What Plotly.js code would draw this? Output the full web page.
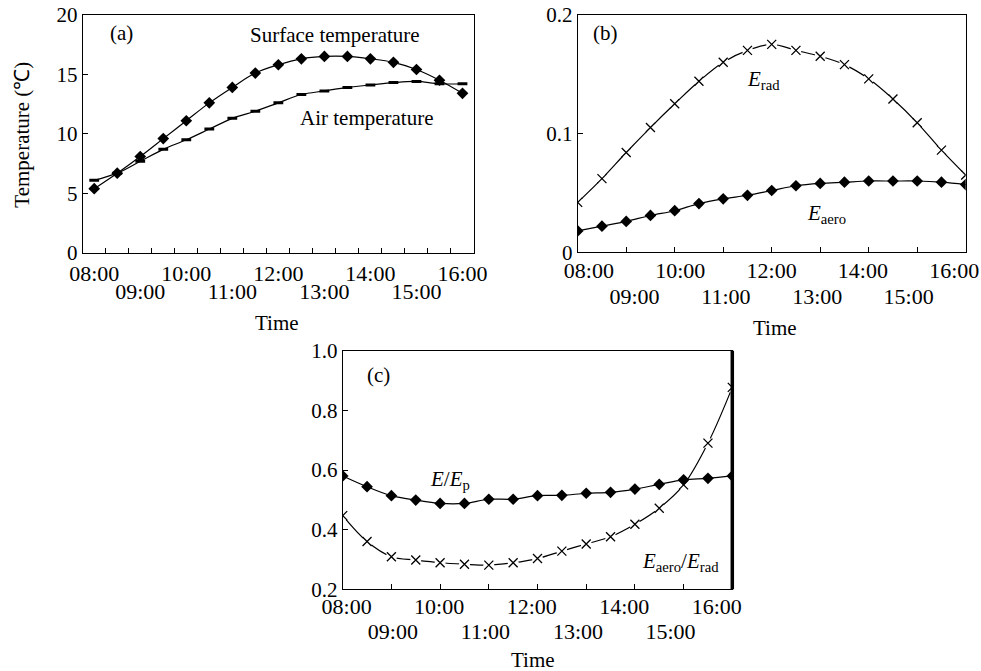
<!DOCTYPE html>
<html>
<head>
<meta charset="utf-8">
<script src="https://cdn.plot.ly/plotly-3.0.1.min.js"></script>
<style>html,body{margin:0;padding:0;background:#fff;}#chart{width:981px;height:671px;}</style>
</head>
<body>
<div id="chart"></div>
<script>
// ---- data ----
const times = ["08:00","08:30","09:00","09:30","10:00","10:30","11:00","11:30","12:00",
               "12:30","13:00","13:30","14:00","14:30","15:00","15:30","16:00"];
const surfaceTemp = [5.4, 6.7, 8.1, 9.6, 11.1, 12.6, 13.9, 15.1, 15.8, 16.3, 16.5, 16.5, 16.3, 16.0, 15.4, 14.5, 13.4];
const airTemp     = [6.1, 6.7, 7.7, 8.7, 9.5, 10.4, 11.3, 11.9, 12.6, 13.3, 13.6, 13.9, 14.1, 14.3, 14.4, 14.2, 14.2];
const eRad  = [0.042, 0.062, 0.084, 0.105, 0.125, 0.144, 0.160, 0.170, 0.175, 0.170, 0.165, 0.158, 0.146, 0.129, 0.109, 0.086, 0.065];
const eAero = [0.018, 0.022, 0.026, 0.031, 0.035, 0.041, 0.045, 0.048, 0.052, 0.056, 0.058, 0.059, 0.060, 0.060, 0.060, 0.059, 0.057];
const eRatio    = [0.580, 0.544, 0.514, 0.499, 0.488, 0.488, 0.502, 0.502, 0.514, 0.515, 0.522, 0.525, 0.536, 0.552, 0.567, 0.572, 0.580];
const aeroRatio = [0.447, 0.360, 0.309, 0.298, 0.289, 0.284, 0.281, 0.289, 0.303, 0.328, 0.352, 0.376, 0.418, 0.472, 0.550, 0.690, 0.877];
const labelsTop    = ["08:00","10:00","12:00","14:00","16:00"];
const labelsBottom = ["09:00","11:00","13:00","15:00"];
const yTicksA = [0, 5, 10, 15, 20];
const yTicksB = [0, 0.1, 0.2];
const yTextB  = ["0", "0.1", "0.2"];
const yTicksC = [0.2, 0.4, 0.6, 0.8, 1.0];
const yTextC  = ["0.2", "0.4", "0.6", "0.8", "1.0"];

// ---- helpers ----
const toH = t => { const [h, m] = t.split(":").map(Number); return h + m / 60; };
const xs = times.map(toH);
const boundaries = xs.slice(1).map((v, i) => (v + xs[i]) / 2);
const hourly = xs.filter(v => Number.isInteger(v) && v > xs[0] && v < xs[xs.length - 1]);
const W = 981, H = 671;
const px = v => v / W, py = v => 1 - v / H;
const FONT = "Liberation Serif, Times New Roman, serif";
const BLK = "#000";

const lineW = 1.2;
const diamond = {symbol: "diamond", size: 9, color: BLK};
const traces = [
  // panel a
  {x: xs, y: airTemp, xaxis: "x", yaxis: "y", mode: "lines+markers", name: "Air temperature",
   line: {color: BLK, width: lineW, shape: "spline"},
   marker: {symbol: "line-ew", size: 7, line: {color: BLK, width: 3}}},
  {x: xs, y: surfaceTemp, xaxis: "x", yaxis: "y", mode: "lines+markers", name: "Surface temperature",
   line: {color: BLK, width: lineW, shape: "spline"}, marker: diamond},
  // panel b
  {x: xs, y: eRad, xaxis: "x4", yaxis: "y2", mode: "lines+markers", name: "E_rad",
   line: {color: BLK, width: lineW, shape: "spline"}, marker: {symbol: "circle", size: 11, color: "#fff"}},
  {x: xs, y: eRad, xaxis: "x4", yaxis: "y2", mode: "markers", name: "E_rad markers",
   marker: {symbol: "x-thin", size: 9, line: {color: BLK, width: 1.3}}},
  {x: xs, y: eAero, xaxis: "x4", yaxis: "y2", mode: "lines+markers", name: "E_aero",
   line: {color: BLK, width: lineW, shape: "spline"}, marker: diamond},
  // panel c
  {x: xs, y: aeroRatio, xaxis: "x7", yaxis: "y3", mode: "lines+markers", name: "E_aero/E_rad",
   line: {color: BLK, width: lineW, shape: "spline"}, marker: {symbol: "circle", size: 11, color: "#fff"}},
  {x: xs, y: aeroRatio, xaxis: "x7", yaxis: "y3", mode: "markers", name: "E_aero/E_rad markers",
   marker: {symbol: "x-thin", size: 9, line: {color: BLK, width: 1.3}}},
  {x: xs, y: eRatio, xaxis: "x7", yaxis: "y3", mode: "lines+markers", name: "E/E_p",
   line: {color: BLK, width: lineW, shape: "spline"}, marker: diamond},
  // empty traces to hold label axes
  {x: [], y: [], xaxis: "x2", yaxis: "y", mode: "markers", hoverinfo: "skip"},
  {x: [], y: [], xaxis: "x3", yaxis: "y", mode: "markers", hoverinfo: "skip"},
  {x: [], y: [], xaxis: "x5", yaxis: "y2", mode: "markers", hoverinfo: "skip"},
  {x: [], y: [], xaxis: "x6", yaxis: "y2", mode: "markers", hoverinfo: "skip"},
  {x: [], y: [], xaxis: "x8", yaxis: "y3", mode: "markers", hoverinfo: "skip"},
  {x: [], y: [], xaxis: "x9", yaxis: "y3", mode: "markers", hoverinfo: "skip"}
];

const xTickFont = {family: FONT, size: 22, color: BLK};
const yTickFont = {family: FONT, size: 21, color: BLK};
function dataX(domain, range, tickvals, anchor) {
  return {domain, range, anchor, tickmode: "array", tickvals, showticklabels: false,
    ticks: "inside", ticklen: 5, tickwidth: 1, tickcolor: BLK,
    showline: true, linecolor: BLK, linewidth: 1, mirror: true,
    showgrid: false, zeroline: false, fixedrange: true};
}
function labelX(domain, range, over, anchor, vals, text, standoff) {
  return {domain, range, overlaying: over, anchor, tickmode: "array", tickvals: vals, ticktext: text,
    ticks: "", showline: false, showgrid: false, zeroline: false, tickfont: xTickFont,
    ticklabelstandoff: standoff, ticklabeloverflow: "allow", side: "bottom", fixedrange: true};
}
function dataY(domain, range, vals, text, anchor) {
  return {domain, range, anchor, tickmode: "array", tickvals: vals, ticktext: text,
    ticks: "inside", ticklen: 5, tickwidth: 1, tickcolor: BLK, tickfont: yTickFont,
    showline: true, linecolor: BLK, linewidth: 1, mirror: true,
    showgrid: false, zeroline: false, fixedrange: true};
}

const domA = [px(82.7), px(474)],  domAy = [py(253), py(14.7)];
const domB = [px(577.7), px(965.7)], domBy = [py(252.3), py(14.7)];
const domC = [px(342.7), px(732.3)], domCy = [py(589.3), py(350.7)];
const topHours = labelsTop.map(toH), botHours = labelsBottom.map(toH);
const rangeA = [7.75, 16.25];

const ann = (text, x, y, size, xanchor) => ({text, x: px(x), y: py(y), xref: "paper", yref: "paper",
  showarrow: false, xanchor: xanchor || "center", yanchor: "middle",
  font: {family: FONT, size: size || 21, color: BLK}});

const layout = {
  width: W, height: H, autosize: false, showlegend: false,
  margin: {l: 0, r: 0, t: 0, b: 0},
  paper_bgcolor: "#fff", plot_bgcolor: "#fff",
  font: {family: FONT, size: 21, color: BLK},
  xaxis: dataX(domA, rangeA, boundaries, "y"),
  xaxis2: labelX(domA, rangeA, "x", "y", topHours, labelsTop, 5),
  xaxis3: labelX(domA, rangeA, "x", "y", botHours, labelsBottom, 23),
  yaxis: dataY(domAy, [0, 20], yTicksA, yTicksA.map(String), "x"),
  xaxis4: dataX(domB, [8, 16], hourly, "y2"),
  xaxis5: labelX(domB, [7.755, 16.25], "x4", "y2", topHours, labelsTop, 3),
  xaxis6: labelX(domB, [7.755, 16.25], "x4", "y2", botHours, labelsBottom, 29),
  yaxis2: dataY(domBy, [0, 0.2], yTicksB, yTextB, "x4"),
  xaxis7: dataX(domC, [8, 16], hourly, "y3"),
  xaxis8: labelX(domC, [7.915, 16.335], "x7", "y3", topHours, labelsTop, 2),
  xaxis9: labelX(domC, [7.915, 16.335], "x7", "y3", botHours, labelsBottom, 27),
  yaxis3: dataY(domCy, [0.2, 1.0], yTicksC, yTextC, "x7"),
  shapes: [
    {type: "line", xref: "x7 domain", yref: "y3 domain", x0: 1, x1: 1, y0: 0, y1: 1,
     line: {color: BLK, width: 3.5}}
  ],
  annotations: [
    ann("(a)", 121, 33), ann("(b)", 605, 33), ann("(c)", 378.5, 375),
    ann("Surface temperature", 335, 35),
    ann("Air temperature", 366.7, 118.3),
    ann("<i>E</i><sub>rad</sub>", 745, 80, 21, "left"),
    ann("<i>E</i><sub>aero</sub>", 805, 214, 21, "left"),
    ann("<i>E</i>/<i>E</i><sub>p</sub>", 428, 480, 21, "left"),
    ann("<i>E</i><sub>aero</sub>/<i>E</i><sub>rad</sub>", 640, 562, 21, "left"),
    ann("Time", 276.7, 323), ann("Time", 775, 328), ann("Time", 532.5, 660),
    Object.assign(ann("Temperature (℃)", 21.7, 135, 21), {textangle: -90})
  ]
};

Plotly.newPlot("chart", traces, layout, {staticPlot: true, displayModeBar: false});
</script>
</body>
</html>
